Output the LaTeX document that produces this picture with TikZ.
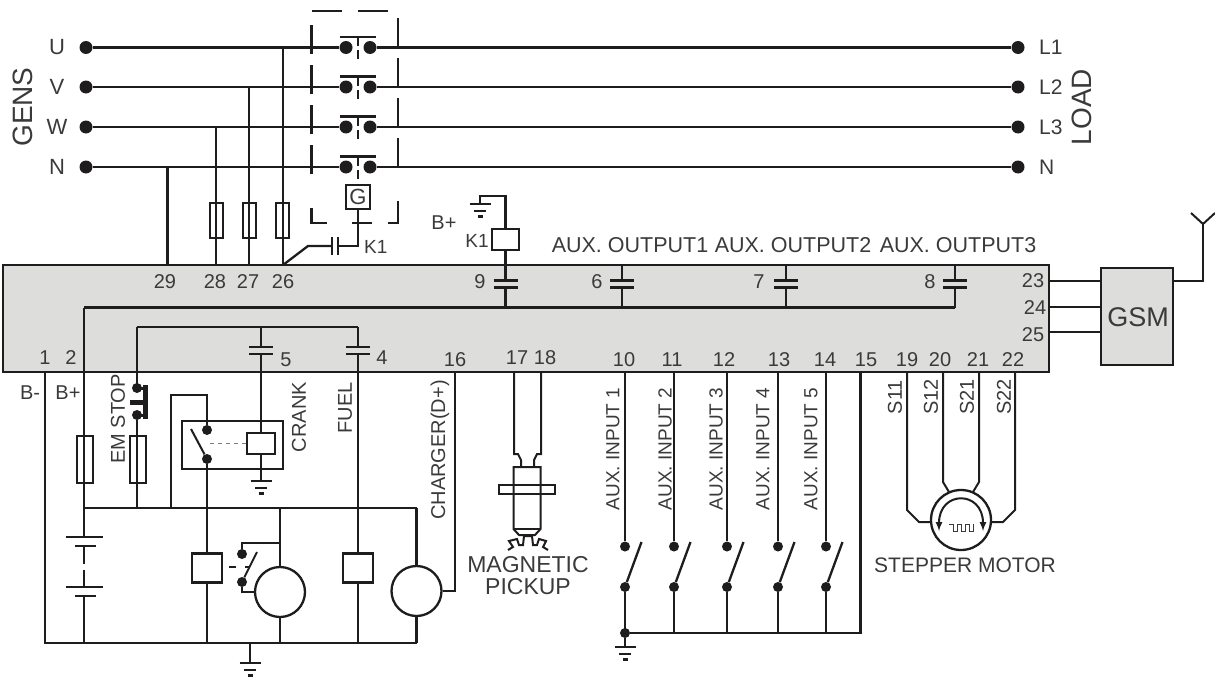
\documentclass[tikz,border=0pt]{standalone}
\usepackage{fontspec}
\setmainfont{Liberation Sans}
\usetikzlibrary{positioning}
\definecolor{panelgray}{HTML}{DDDDDB}
\definecolor{inkdark}{HTML}{1E1C1C}
\definecolor{labeldark}{HTML}{3A3A3A}
\tikzset{
	wire/.style={draw=inkdark, line width=2.3pt},
	thinwire/.style={draw=inkdark, line width=2pt},
	lbl/.style={text=labeldark, inner sep=0pt, font=\fontsize{20}{20}\selectfont},
	biglbl/.style={text=labeldark, inner sep=0pt, font=\fontsize{28}{28}\selectfont},
	termdot/.style={circle, fill=inkdark, inner sep=0pt, minimum size=13pt},
	swdot/.style={circle, fill=inkdark, inner sep=0pt, minimum size=10pt},
	fuse/.style={draw=inkdark, line width=2pt, inner sep=0pt, minimum width=13pt, minimum height=35pt},
	bigfuse/.style={fuse, minimum width=16pt, minimum height=47pt},
	relay/.style={draw=inkdark, line width=2.3pt, fill=white, inner sep=0pt, minimum width=30pt, minimum height=29pt},
	motor/.style={circle, draw=inkdark, line width=2.3pt, fill=white, inner sep=0pt, minimum size=50pt},
	gnd/.pic={
		\draw[wire] (-10.5,0) -- (10.5,0);
		\draw[wire] (-6,7) -- (6,7);
		\draw[wire, line width=2.6pt] (-2.5,12.5) -- (2.5,12.5);
	},
	cap/.pic={
		\fill[panelgray] (-12,-3.5) rectangle (12,3.5);
		\draw[wire] (-12,-3.5) -- (12,-3.5);
		\draw[wire] (-12,3.5) -- (12,3.5);
	},
}
\begin{document}
\begin{tikzpicture}[x=1pt, y=-1pt]
	\useasboundingbox (0,0) rectangle (1215,677);

	% controller panel and gsm
	\node[draw=inkdark, line width=2.6pt, fill=panelgray, inner sep=0pt, minimum width=1046pt, minimum height=107pt] (panel) at (526,318.5) {};
	\node[draw=inkdark, line width=2.3pt, fill=panelgray, inner sep=0pt, minimum width=72pt, minimum height=97pt] (gsm) at (1137,316.5) {};
	\node[text=labeldark, inner sep=0pt, font=\fontsize{27}{27}\selectfont] (gsmtext) at (1138,317) {GSM};

	% mains
	\foreach \name/\txt/\y/\rtxt in {u/U/47.5/L1, v/V/87/L2, w/W/127/L3, n/N/167/N} {
		\node[termdot] (\name a) at (86,\y) {};
		\node[termdot] (\name b) at (1018,\y) {};
		\node[lbl, font=\fontsize{22}{22}\selectfont] (\name l) at (57,\y) {\txt};
		\node[lbl, anchor=west, font=\fontsize{21}{21}\selectfont] (\name r) at (1039,\y) {\rtxt};
		\node[termdot] (\name c) at (346,\y) {};
		\node[termdot] (\name d) at (370,\y) {};
		\draw[wire, line width=2.6pt] (\name a) -- (\name c);
		\draw[wire, line width=2.6pt] (\name d) -- (\name b);
		\coordinate (\name e) at (340,\y-10.5);
		\coordinate (\name f) at (376,\y-10.5);
		\draw[wire] (\name e) -- (\name f);
		\draw[wire, line width=1.8pt] (358,\y-10.5) -- (358,\y-1);
		\draw[wire, line width=1.8pt] (358,\y+3) -- (358,\y+12);
		\draw[wire] (311.5,\y-22) -- (311.5,\y+7);
		\draw[wire] (398,\y-29) -- (398,\y);
	}
	\node[biglbl, rotate=90] (gens) at (23,107) {GENS};
	\node[biglbl, rotate=90] (load) at (1082,107) {LOAD};

	% dashed breaker frame
	\draw[wire] (312,11) -- (342,11);
	\draw[wire] (358,11) -- (388,11);
	\draw[wire] (311.5,208) -- (311.5,223) -- (327,223);
	\draw[wire] (398,201) -- (398,223) -- (388,223);
	\draw[wire] (352,223) -- (372,223);
	\node[draw=inkdark, line width=2pt, fill=white, inner sep=0pt, minimum size=24pt] (gbox) at (358,197) {};
	\node[lbl, font=\fontsize{22}{22}\selectfont] (gtext) at (358,197) {G};

	% sensing wires
	\coordinate (t29) at (167.5,265);
	\coordinate (t28) at (216,265);
	\coordinate (t27) at (249,265);
	\coordinate (t26) at (283,265);
	\draw[wire] (t29) -- (t29 |- na);
	\draw[wire] (t28) -- (t28 |- wa);
	\draw[wire] (t27) -- (t27 |- va);
	\draw[wire] (t26) -- (t26 |- ua);
	\node[fuse] (f28) at (216.5,220.5) {};
	\node[fuse] (f27) at (249,220.5) {};
	\node[fuse] (f26) at (282.5,220.5) {};

	% k1 auxiliary contact
	\coordinate (k1a) at (358,246);
	\coordinate (k1b) at (338,246);
	\coordinate (k1c) at (332,246);
	\draw[wire] (gbox.south) -- (k1a) -- (k1b);
	\draw[wire] (k1b |- 0,237) -- (k1b |- 0,255);
	\draw[wire] (k1c |- 0,237) -- (k1c |- 0,255);
	\draw[wire] (k1c) -- (308,246) -- (t26);
	\node[lbl, anchor=west, font=\fontsize{19}{19}\selectfont] (k1text) at (364,247) {K1};

	% k1 coil and outputs
	\coordinate (busright) at (955,307.5);
	\coordinate (busleft) at (84,307.5);
	\draw[wire] (busleft) -- (busright);
	\node[draw=inkdark, line width=2.3pt, fill=white, inner sep=0pt, minimum width=27pt, minimum height=21pt] (coil) at (505.5,239.5) {};
	\coordinate (coiltop) at (505.5,196);
	\coordinate (coilgnd) at (480,196);
	\draw[wire] (coil.north) -- (coiltop) -- (coilgnd) -- (480,204);
	\pic at (480,204) {gnd};
	\draw[wire] (coil.south) -- (505.5,307.5);
	\pic at (505.5,284) {cap};
	\draw[wire] (622,265) -- (622,307.5);
	\pic at (622,284) {cap};
	\draw[wire] (786,265) -- (786,307.5);
	\pic at (786,284) {cap};
	\draw[wire] (955,265) -- (955,307.5);
	\pic at (955,284) {cap};
	\node[lbl] (btop) at (444,223) {B+};
	\node[lbl, font=\fontsize{19}{19}\selectfont] (k1coil) at (477,241) {K1};
	\node[lbl, font=\fontsize{21.5}{21.5}\selectfont] (out1) at (630,245) {AUX. OUTPUT1};
	\node[lbl, font=\fontsize{21.5}{21.5}\selectfont] (out2) at (793,245) {AUX. OUTPUT2};
	\node[lbl, font=\fontsize{21.5}{21.5}\selectfont] (out3) at (958,245) {AUX. OUTPUT3};

	% terminal numbers
	\foreach \txt/\x/\y in {29/165/282, 28/215/282, 27/248/282, 26/283/282, 9/480/282, 6/597/282, 7/759/282, 8/930/282,
		1/45/358, 2/71/358, 5/286/360, 4/382/358, 16/455/360, 17/517/358, 18/545/358, 10/624/360, 11/672/360, 12/724/360,
		13/779/360, 14/825/360, 15/866/360, 19/907/360, 20/940/360, 21/978/360, 22/1013/360, 23/1033/281, 24/1035/308, 25/1033/335} {
		\node[lbl] (n\txt) at (\x,\y) {\txt};
	}

	% gsm
	\foreach \y in {280.5, 307, 332} {
		\draw[thinwire] (1049,\y) -- (1101,\y);
	}
	\coordinate (ant) at (1203,224);
	\draw[thinwire] (1173,281) -- (1203,281) -- (ant);
	\draw[thinwire] (1191,213) -- (ant) -- (1215,213);

	% crank and fuel bus
	\coordinate (busa) at (137,327);
	\coordinate (busb) at (261,327);
	\coordinate (busc) at (358,327);
	\draw[wire] (busa) -- (busc);
	\draw[wire] (busa) -- (137,386);
	\draw[wire] (busb) -- (261,433);
	\draw[wire] (busc) -- (358,554);
	\pic at (261,350.5) {cap};
	\pic at (358,350.5) {cap};

	% battery side
	\coordinate (bat) at (84,508);
	\coordinate (gndleft) at (45,643);
	\coordinate (gndright) at (417,643);
	\draw[wire] (45,372) -- (gndleft) -- (gndright);
	\draw[wire] (busleft) -- (bat) -- (417,508);
	\draw[wire] (bat) -- (84,537);
	\draw[wire] (84,546) -- (84,564);
	\draw[wire] (84,570) -- (84,587);
	\draw[wire] (84,596) -- (84,643);
	\node[bigfuse] (fbat) at (84.5,459) {};
	\draw[wire] (66,537) -- (103,537);
	\draw[wire] (75,546) -- (96,546);
	\draw[wire] (66,587) -- (103,587);
	\draw[wire] (75,596) -- (96,596);
	\node[lbl] (bminus) at (30,393) {B-};
	\node[lbl] (bplus) at (68,393) {B+};

	% em stop
	\node[swdot] (esa) at (137,388) {};
	\node[swdot] (esb) at (137,415) {};
	\draw[wire] (esb) -- (137,508);
	\node[bigfuse] (fstop) at (137.5,459) {};
	\draw[wire, line width=5pt] (145,385) -- (145,419);
	\draw[wire, line width=5pt] (130,402) -- (145,402);
	\draw[wire, line width=3pt] (137,388) -- (145,388);
	\draw[wire, line width=3pt] (137,415) -- (145,415);
	\node[lbl, rotate=90] (estext) at (118,419) {EM STOP};

	% crank relay
	\node[draw=inkdark, line width=2pt, inner sep=0pt, minimum width=101pt, minimum height=48pt] (crankbox) at (232.5,445) {};
	\node[relay, minimum width=28pt, minimum height=21pt] (crankcoil) at (261,443.5) {};
	\node[swdot] (csa) at (207,430) {};
	\node[swdot] (csb) at (207,459) {};
	\draw[wire] (csa) -- (207,395) -- (171,395) -- (171,508);
	\draw[thinwire] (191,429) -- (csb);
	\draw[gray, line width=1pt, dash pattern=on 4pt off 4pt] (210,443.5) -- (crankcoil.west);
	\draw[wire] (crankcoil.south) -- (261,481);
	\pic at (261,481) {gnd};
	\node[lbl, rotate=90] (cranktext) at (299,417) {CRANK};
	\node[lbl, rotate=90] (fueltext) at (345,408) {FUEL};

	% starter and alternator
	\node[relay] (crelay) at (207,568) {};
	\node[relay] (frelay) at (358,568) {};
	\node[motor] (starter) at (280,592) {};
	\node[motor] (alt) at (416.5,591) {};
	\draw[wire] (csb) -- (crelay.north);
	\draw[wire] (crelay.south) -- (crelay.south |- gndleft);
	\draw[wire] (frelay.south) -- (frelay.south |- gndleft);
	\draw[wire] (starter.north) -- (starter.north |- bat);
	\draw[wire] (starter.south) -- (starter.south |- gndleft);
	\draw[wire] (alt.north) -- (alt.north |- bat);
	\draw[wire] (alt.south) -- (alt.south |- gndleft);
	\node[swdot] (ssa) at (242,554) {};
	\node[swdot] (ssb) at (242,582) {};
	\draw[wire] (ssa) -- (242,543) -- (280,543);
	\draw[wire] (ssb) -- (242,592) -- (starter.west);
	\draw[thinwire] (ssb) -- (257,552);
	\draw[wire] (229,567) -- (236,567);
	\draw[wire] (245,567) -- (250,567);
	\coordinate (gndmain) at (250,643);
	\draw[wire] (gndmain) -- (250,663);
	\pic at (250,663) {gnd};
	\draw[wire] (alt.east) -- (455,591) -- (455,372);
	\node[lbl, rotate=90] (chtext) at (440,450) {CHARGER(D+)};

	% magnetic pickup
	\draw[thinwire] (514,372) -- (514,454) -- (518,454) -- (521,460) -- (521,466);
	\draw[thinwire] (541,372) -- (541,454) -- (537,454) -- (534,460) -- (534,466);
	\draw[thinwire] (513.5,467) -- (540.5,467) -- (540.5,529) -- (535,535) -- (519,535) -- (513.5,529) -- cycle;
	\draw[thinwire] (499,485) rectangle (555,494);
	\draw[thinwire] (513.5,529) -- (540.5,529);
	\draw[thinwire] (508,550) -- (513,547) -- (509,541) -- (517,539) -- (519,545) -- (523,545) -- (524,536) -- (532,536) -- (533,545) -- (537,545) -- (539,539) -- (546,541) -- (543,547) -- (548,550);
	\node[lbl, font=\fontsize{23}{23}\selectfont] (magtext) at (528,565) {MAGNETIC};
	\node[lbl, font=\fontsize{23}{23}\selectfont, below=5pt of magtext] (picktext) {PICKUP};

	% aux inputs
	\coordinate (inend) at (860.5,633);
	\foreach \nr/\x/\lx in {1/625/613, 2/674/665, 3/727/716, 4/778/763, 5/826/811} {
		\node[swdot] (ia\nr) at (\x,546.5) {};
		\node[swdot] (ib\nr) at (\x,587) {};
		\draw[wire] (\x,372) -- (ia\nr);
		\draw[wire] (ib\nr) -- (\x,633);
		\draw[wire] (ib\nr) -- (\x+16.5,542);
		\node[lbl, rotate=90, font=\fontsize{19}{19}\selectfont] (it\nr) at (\lx,449) {AUX. INPUT \nr};
	}
	\node[swdot] (ig) at (625,633) {};
	\draw[wire] (ig) -- (inend) -- (860.5,372);
	\draw[wire] (ig) -- (625,647);
	\pic at (625,647) {gnd};

	% stepper motor
	\node[circle, draw=inkdark, line width=2.3pt, inner sep=0pt, minimum size=60pt] (stepper) at (961,520) {};
	\draw[thinwire] (907,372) -- (907,510) -- (919,522) -- (931,522);
	\draw[thinwire] (1015,372) -- (1015,510) -- (1003,522) -- (991,522);
	\draw[thinwire] (943,372) -- (943,482) -- (949,492);
	\draw[thinwire] (979,372) -- (979,482) -- (973,492);
	\draw[thinwire, latex-latex] (939,531) .. controls (939,490) and (983,490) .. (983,531);
	\draw[draw=labeldark, line width=0.9pt] (949,524) -- (953,524) -- (953,531) -- (957,531) -- (957,524) -- (961,524) -- (961,531) -- (965,531) -- (965,524) -- (969,524) -- (969,531) -- (973,531) -- (973,524);
	\foreach \txt/\x in {S11/895, S12/931, S21/967, S22/1004} {
		\node[lbl, rotate=90] (t\txt) at (\x,397) {\txt};
	}
	\node[lbl, font=\fontsize{21}{21}\selectfont] (stepname) at (965,565) {STEPPER MOTOR};
\end{tikzpicture}
\end{document}
